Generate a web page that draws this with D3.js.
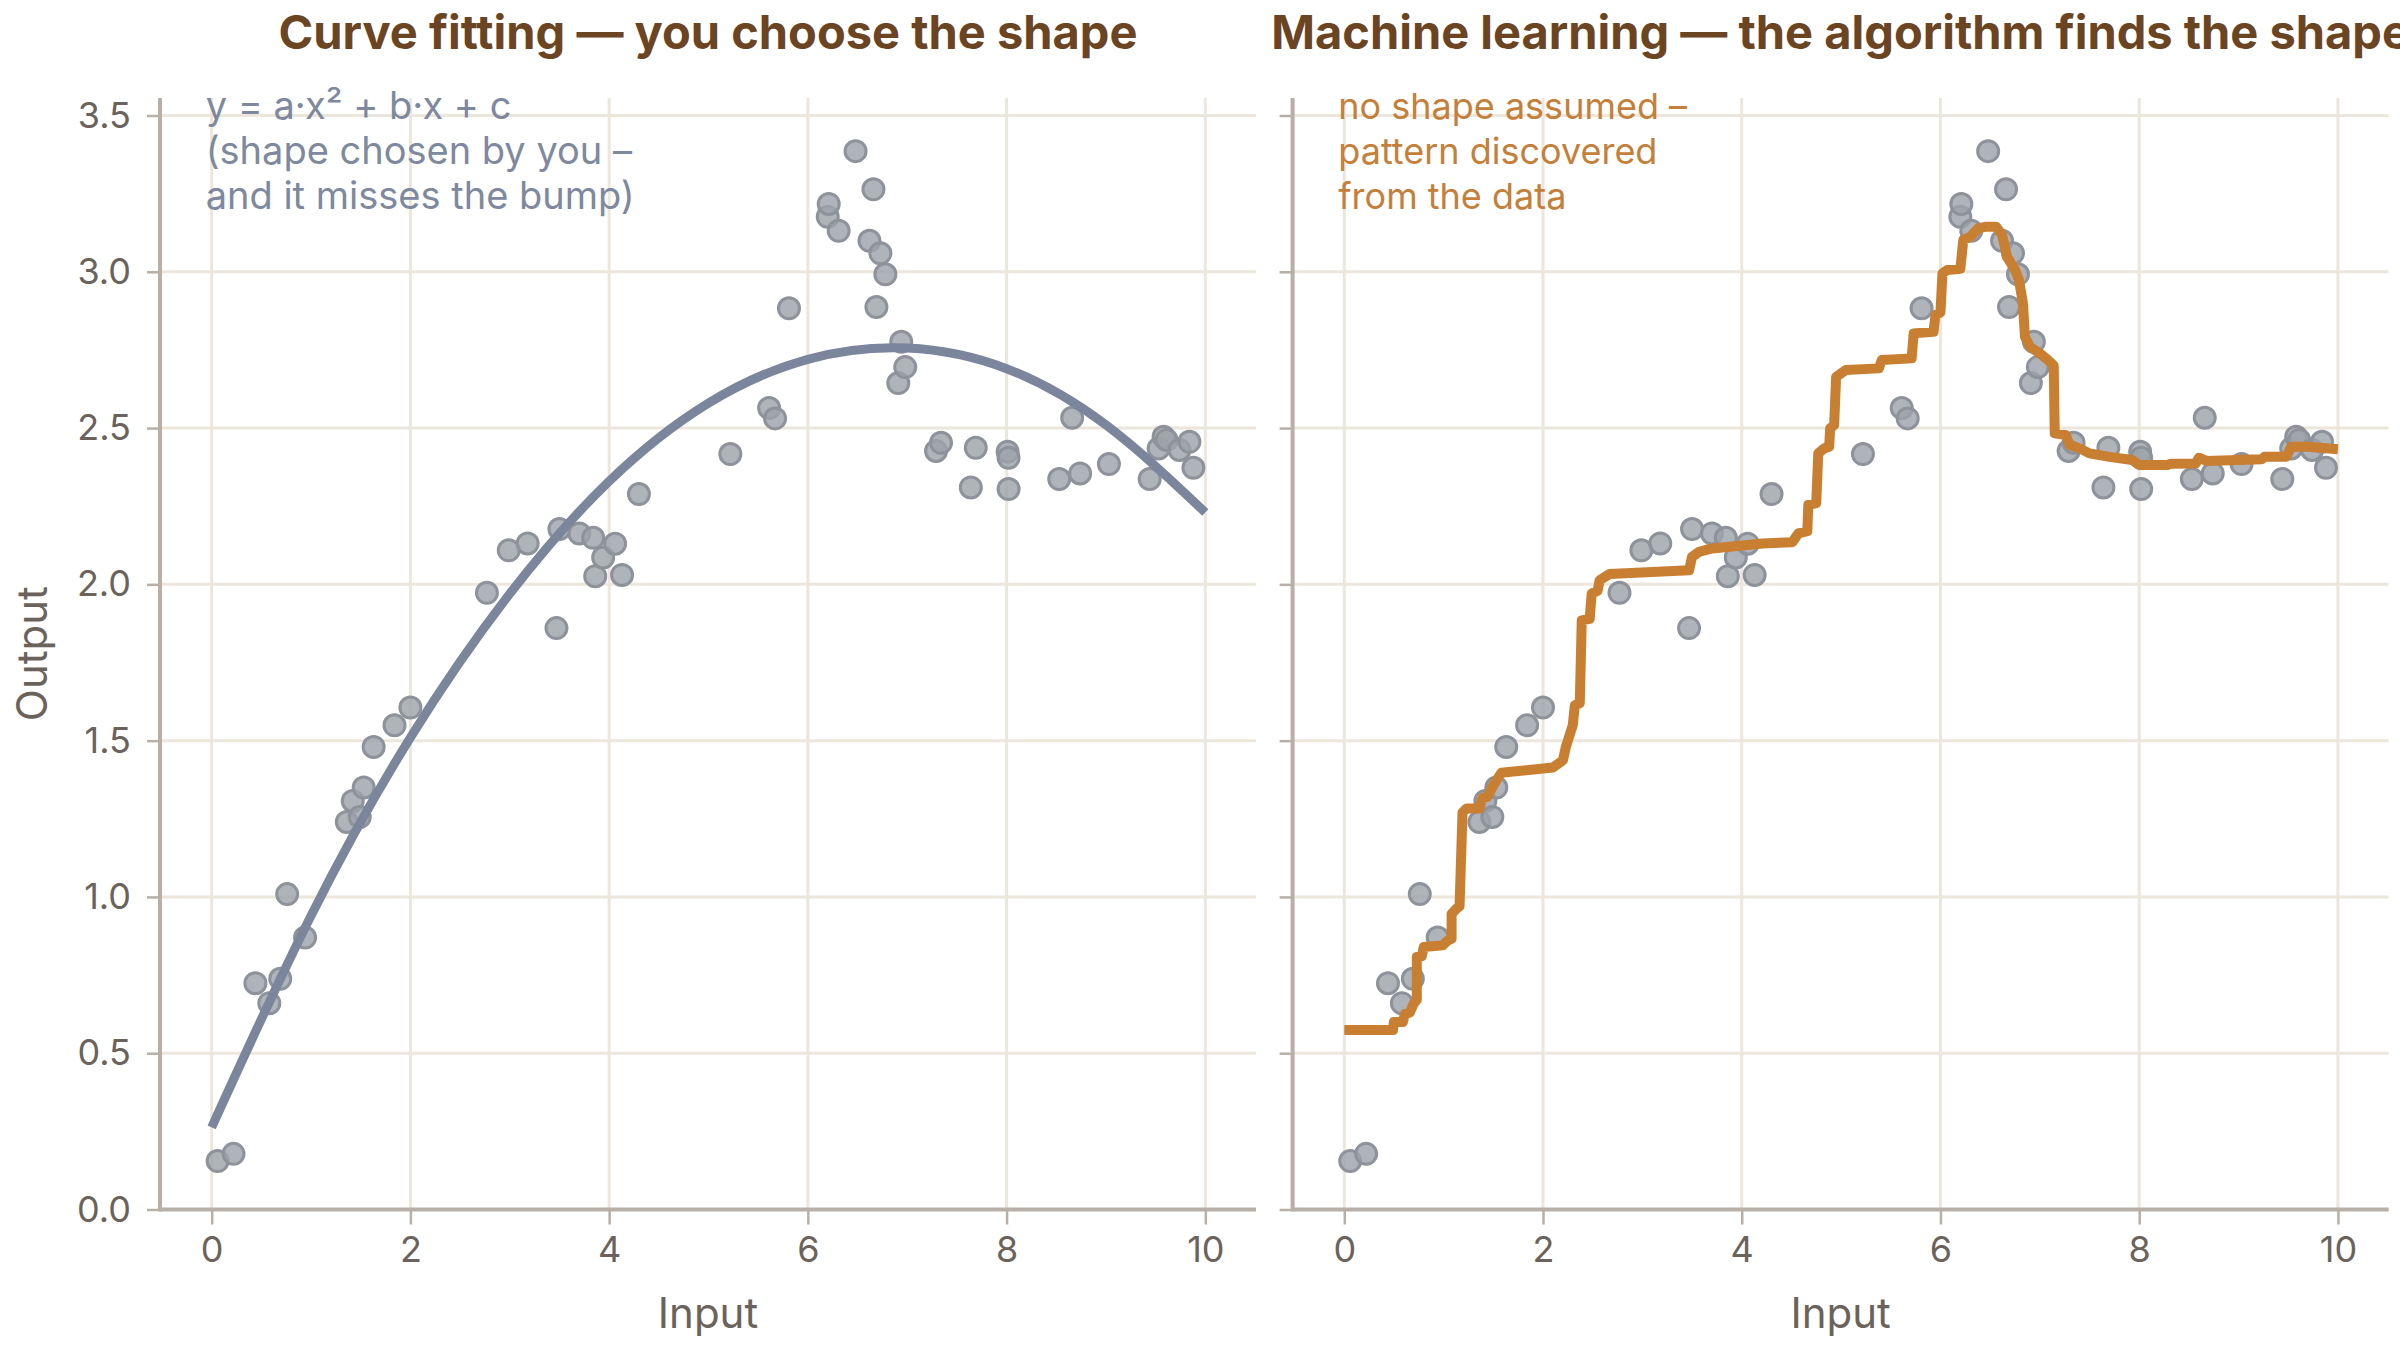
<!DOCTYPE html>
<html>
<head>
<meta charset="utf-8">
<script src="https://cdn.jsdelivr.net/npm/d3@7"></script>
<style>
  html, body { margin: 0; padding: 0; background: #fff; }
  svg { display: block; }
  text { font-family: Inter, "Noto Sans", sans-serif; }
</style>
</head>
<body>
<div id="chart"></div>
<script>
// observed data (same scatter in both panels)
const inputX = [0.06, 0.22, 0.44, 0.58, 0.69, 0.76, 0.94, 1.36, 1.42, 1.49,
    1.53, 1.63, 1.84, 2.00, 2.77, 2.99, 3.18, 3.47, 3.50, 3.70,
    3.84, 3.86, 3.94, 4.06, 4.13, 4.30, 5.22, 5.61, 5.67, 5.81,
    6.20, 6.21, 6.31, 6.48, 6.62, 6.66, 6.69, 6.73, 6.78, 6.91,
    6.94, 6.98, 7.29, 7.34, 7.64, 7.69, 8.01, 8.02, 8.02, 8.53,
    8.66, 8.74, 9.03, 9.44, 9.53, 9.58, 9.61, 9.74, 9.84, 9.88];
const outputY = [0.155, 0.178, 0.724, 0.660, 0.738, 1.009, 0.870, 1.240, 1.307, 1.256,
    1.350, 1.480, 1.549, 1.606, 1.973, 2.109, 2.131, 1.860, 2.177, 2.163,
    2.149, 2.026, 2.086, 2.130, 2.030, 2.289, 2.417, 2.564, 2.531, 2.883,
    3.176, 3.217, 3.131, 3.386, 3.099, 3.264, 2.887, 3.059, 2.992, 2.644,
    2.776, 2.695, 2.427, 2.453, 2.310, 2.437, 2.424, 2.405, 2.305, 2.337,
    2.533, 2.355, 2.385, 2.337, 2.435, 2.472, 2.462, 2.430, 2.456, 2.373];

// quadratic fit at whole inputs
const fitX = [0, 1, 2, 3, 4, 5, 6, 7, 8, 9, 10];
const fitY = [0.263, 0.94, 1.51, 1.97, 2.33, 2.58, 2.72, 2.756, 2.69, 2.51, 2.23];

// learned step-like curve
const mlX = [0.00, 0.49, 0.50, 0.59, 0.61, 0.66, 0.70, 0.73, 0.73, 0.78,
    0.80, 0.99, 1.04, 1.08, 1.08, 1.13, 1.16, 1.19, 1.23, 1.36,
    1.39, 1.44, 1.50, 1.58, 2.10, 2.17, 2.20, 2.23, 2.30, 2.32,
    2.37, 2.39, 2.47, 2.49, 2.55, 2.57, 2.67, 3.47, 3.50, 3.57,
    3.70, 4.21, 4.51, 4.57, 4.66, 4.67, 4.75, 4.77, 4.83, 4.88,
    4.89, 4.93, 4.95, 5.05, 5.38, 5.41, 5.71, 5.73, 5.93, 5.95,
    6.00, 6.02, 6.07, 6.20, 6.23, 6.30, 6.38, 6.45, 6.56, 6.62,
    6.67, 6.75, 6.79, 6.83, 6.85, 6.90, 7.00, 7.08, 7.14, 7.15,
    7.26, 7.30, 7.40, 7.50, 7.70, 7.93, 8.00, 8.29, 8.32, 8.57,
    8.60, 8.68, 9.23, 9.26, 9.48, 9.53, 9.70, 10.00];
const mlY = [0.574, 0.574, 0.600, 0.600, 0.626, 0.630, 0.660, 0.670, 0.808, 0.810,
    0.840, 0.845, 0.860, 0.866, 0.946, 0.963, 0.970, 1.270, 1.283, 1.283,
    1.316, 1.320, 1.357, 1.397, 1.414, 1.430, 1.437, 1.480, 1.550, 1.613,
    1.620, 1.885, 1.890, 1.971, 1.980, 2.013, 2.033, 2.045, 2.088, 2.104,
    2.115, 2.131, 2.135, 2.163, 2.170, 2.254, 2.260, 2.419, 2.435, 2.440,
    2.499, 2.510, 2.664, 2.686, 2.691, 2.718, 2.723, 2.803, 2.808, 2.862,
    2.870, 2.995, 3.006, 3.010, 3.102, 3.112, 3.139, 3.144, 3.144, 3.118,
    3.048, 3.006, 2.974, 2.899, 2.792, 2.760, 2.739, 2.718, 2.700, 2.483,
    2.478, 2.446, 2.435, 2.419, 2.408, 2.398, 2.382, 2.382, 2.386, 2.387,
    2.405, 2.395, 2.400, 2.408, 2.408, 2.440, 2.440, 2.432];

const xTicks = [0, 2, 4, 6, 8, 10];
const yTicks = [0, 0.5, 1, 1.5, 2, 2.5, 3, 3.5];
const yTickLabels = ["0.0", "0.5", "1.0", "1.5", "2.0", "2.5", "3.0", "3.5"];

const panelTitles = ["Curve fitting — you choose the shape",
    "Machine learning — the algorithm finds the shape"];
const fitNote = ["y = a·x² + b·x + c", "(shape chosen by you –", "and it misses the bump)"];
const mlNote = ["no shape assumed –", "pattern discovered", "from the data"];

const width = 2400, height = 1350;
const gridColor = "#ece6dc", spineColor = "#b8afa6", inkColor = "#6b635b";
const titleColor = "#6b4422";

const svg = d3.select("#chart")
    .append("svg")
    .attr("width", width)
    .attr("height", height);

const y = d3.scaleLinear().domain([0, 3.556]).range([1209.5, 98]);

const points = inputX.map((v, i) => ({ x: v, y: outputY[i] }));

function drawPanel(opt) {
    const x = d3.scaleLinear().domain([-0.52, 10.51]).range([opt.left, opt.left + 1096]);
    const g = svg.append("g");

    // grid
    g.append("g").selectAll("line")
        .data(yTicks).join("line")
        .attr("x1", x.range()[0]).attr("x2", x.range()[1])
        .attr("y1", d => y(d)).attr("y2", d => y(d))
        .attr("stroke", gridColor).attr("stroke-width", 3);
    g.append("g").selectAll("line")
        .data(xTicks).join("line")
        .attr("x1", d => x(d)).attr("x2", d => x(d))
        .attr("y1", y.range()[1]).attr("y2", y.range()[0])
        .attr("stroke", gridColor).attr("stroke-width", 3);

    // axes
    const xAxis = d3.axisBottom(x).tickValues(xTicks).tickSize(15).tickPadding(12)
        .tickFormat(d3.format("d"));
    const yAxis = d3.axisLeft(y).tickValues(yTicks).tickSize(13).tickPadding(16)
        .tickFormat((d, i) => opt.showYLabels ? yTickLabels[i] : "");

    const gx = g.append("g").attr("transform", `translate(0,${y(0)})`).call(xAxis);
    const gy = g.append("g").attr("transform", `translate(${x.range()[0]},0)`).call(yAxis);
    [gx, gy].forEach(a => {
        a.select(".domain").attr("stroke", spineColor).attr("stroke-width", 4);
        a.selectAll(".tick line").attr("stroke", spineColor).attr("stroke-width", 2.5);
        a.selectAll(".tick text").attr("fill", inkColor)
            .style("font-size", "36px").style("font-family", "Inter, sans-serif");
    });
    gy.select(".domain").attr("d", `M0,${y.range()[1]}V${y.range()[0] + 2}`);
    gx.select(".domain").attr("d", `M${x.range()[0]},0H${x.range()[1]}`);

    // scatter
    g.append("g").selectAll("circle")
        .data(points).join("circle")
        .attr("cx", d => x(d.x)).attr("cy", d => y(d.y))
        .attr("r", 10.5)
        .attr("fill", "#9ea2ab").attr("fill-opacity", 0.82)
        .attr("stroke", "#8e929a").attr("stroke-width", 3);

    // model curve
    const line = d3.line().x(d => x(d[0])).y(d => y(d[1])).curve(opt.curve);
    g.append("path")
        .datum(opt.xs.map((v, i) => [v, opt.ys[i]]))
        .attr("d", line)
        .attr("fill", "none")
        .attr("stroke", opt.color)
        .attr("stroke-width", opt.lineWidth)
        .attr("stroke-linejoin", "round");

    // note
    g.append("text")
        .attr("x", x(0) - 6).attr("y", 119)
        .attr("fill", opt.noteColor)
        .style("font-size", opt.noteSize + "px")
        .selectAll("tspan").data(opt.note).join("tspan")
        .attr("x", x(0) - 6)
        .attr("dy", (d, i) => i === 0 ? 0 : 45)
        .text(d => d);

    // title
    g.append("text")
        .attr("x", (x.range()[0] + x.range()[1]) / 2).attr("y", 49)
        .attr("text-anchor", "middle")
        .attr("fill", titleColor)
        .style("font-size", "47px").style("font-weight", 700)
        .text(opt.title);

    // x label
    g.append("text")
        .attr("x", (x.range()[0] + x.range()[1]) / 2).attr("y", 1328)
        .attr("text-anchor", "middle")
        .attr("fill", inkColor)
        .style("font-size", "42px")
        .text("Input");
}

drawPanel({
    left: 160, showYLabels: true, title: panelTitles[0],
    xs: fitX, ys: fitY, curve: d3.curveNatural,
    color: "#7b869d", lineWidth: 9, note: fitNote, noteColor: "#7e889e", noteSize: 38
});
drawPanel({
    left: 1292.6, showYLabels: false, title: panelTitles[1],
    xs: mlX, ys: mlY, curve: d3.curveLinear,
    color: "#c97f32", lineWidth: 10, note: mlNote, noteColor: "#c47f3a", noteSize: 36
});

svg.append("text")
    .attr("transform", `translate(36,${y(1.778)}) rotate(-90)`)
    .attr("text-anchor", "middle")
    .attr("dominant-baseline", "middle")
    .attr("fill", inkColor)
    .style("font-size", "42px")
    .text("Output");
</script>
</body>
</html>
